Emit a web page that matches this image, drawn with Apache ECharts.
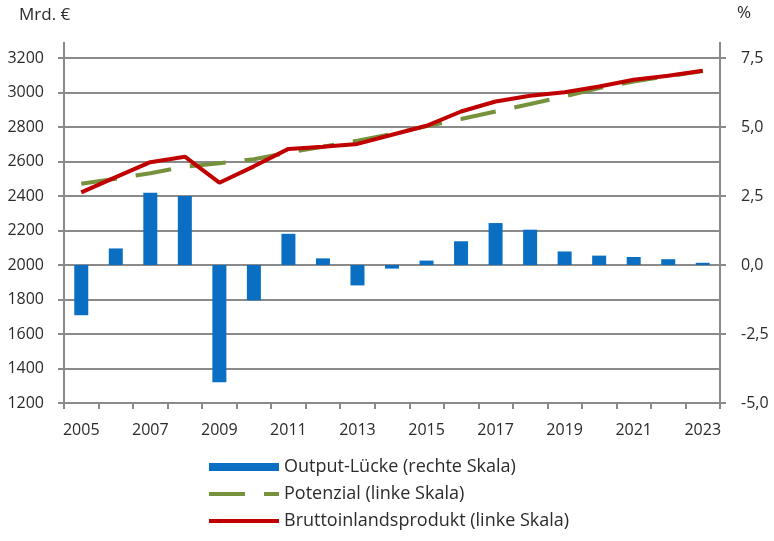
<!DOCTYPE html>
<html>
<head>
<meta charset="utf-8">
<script src="https://cdn.jsdelivr.net/npm/echarts@6/dist/echarts.min.js"></script>
<style>
  html, body { margin: 0; padding: 0; background: #fff; }
  #cnv { width: 774px; height: 541px; }
</style>
</head>
<body>
<div id="cnv"></div>
<script>
var years = ["2005", "2006", "2007", "2008", "2009", "2010", "2011", "2012", "2013", "2014",
  "2015", "2016", "2017", "2018", "2019", "2020", "2021", "2022", "2023"];
// Output-Lücke in % (rechte Skala)
var luecke = [-1.82, 0.60, 2.62, 2.50, -4.25, -1.28, 1.13, 0.24, -0.74, -0.13,
  0.16, 0.86, 1.52, 1.28, 0.49, 0.34, 0.29, 0.21, 0.08];
// Potenzial in Mrd. € (linke Skala)
var potenzial = [2471, 2500, 2532, 2570, 2590, 2613, 2652, 2686, 2721, 2760,
  2805, 2846, 2890, 2933, 2977, 3026, 3064, 3095, 3124];
// Bruttoinlandsprodukt in Mrd. € (linke Skala)
var bip = [2421, 2509, 2596, 2628, 2477, 2572, 2673, 2686, 2702, 2755,
  2807, 2890, 2948, 2981, 3002, 3035, 3074, 3097, 3126];

var font = "Open Sans";
var txt = "#2b2b2b";
var grau = "#8a8a8a";
var gruen = "#76923c";
var rot = "#c00000";
var keinSymbol = { color: "rgba(0,0,0,0)", borderWidth: 0, opacity: 0 };

var main = document.getElementById("cnv");
var myechart = echarts.init(main);
var option = {
  animation: false,
  textStyle: { fontFamily: font },
  grid: { left: 64, right: 54, top: 58, bottom: 138 },
  graphic: [
    { type: "text", left: 19, top: 7, style: { text: "Mrd. €", font: "17px " + font, fill: txt } },
    { type: "text", left: 737, top: 5, style: { text: "%", font: "17px " + font, fill: txt } },
    // Achslinien ragen oben etwas über das Raster hinaus
    { type: "line", shape: { x1: 64, y1: 42, x2: 64, y2: 58 }, style: { stroke: grau, lineWidth: 2 } },
    { type: "line", shape: { x1: 720, y1: 42, x2: 720, y2: 58 }, style: { stroke: grau, lineWidth: 2 } }
  ],
  legend: {
    orient: "vertical",
    left: 207,
    top: 458,
    padding: 0,
    itemWidth: 70,
    itemHeight: 8,
    itemGap: 9,
    textStyle: { fontFamily: font, fontSize: 18, lineHeight: 18, color: txt },
    data: [
      { name: "Output-Lücke (rechte Skala)", icon: "rect" },
      { name: "Potenzial (linke Skala)", itemStyle: keinSymbol, lineStyle: { width: 4, type: [36, 19], color: gruen } },
      { name: "Bruttoinlandsprodukt (linke Skala)", itemStyle: keinSymbol, lineStyle: { width: 4, color: rot } }
    ]
  },
  xAxis: {
    type: "category",
    data: years,
    boundaryGap: true,
    axisLine: { onZero: false, lineStyle: { color: grau, width: 2 } },
    axisTick: { show: true, alignWithLabel: false, interval: 0, length: 6, lineStyle: { color: grau, width: 2 } },
    axisLabel: { interval: 1, margin: 19, fontSize: 16, color: txt, fontFamily: font }
  },
  yAxis: [
    {
      type: "value",
      min: 1200,
      max: 3200,
      interval: 200,
      position: "left",
      axisLine: { show: true, lineStyle: { color: grau, width: 2 } },
      axisTick: { show: true, length: 6, lineStyle: { color: grau, width: 2 } },
      axisLabel: { margin: 20, fontSize: 16, color: txt, fontFamily: font, formatter: function (v) { return String(v); } },
      splitLine: { show: true, lineStyle: { color: grau, width: 2 } }
    },
    {
      type: "value",
      min: -5,
      max: 7.5,
      interval: 2.5,
      position: "right",
      axisLine: { show: true, lineStyle: { color: grau, width: 2 } },
      axisTick: { show: true, length: 6, lineStyle: { color: grau, width: 2 } },
      axisLabel: {
        margin: 21, fontSize: 16, color: txt, fontFamily: font,
        formatter: function (v) { return v.toFixed(1).replace(".", ","); }
      },
      splitLine: { show: false }
    }
  ],
  series: [
    {
      name: "Output-Lücke (rechte Skala)",
      type: "bar",
      yAxisIndex: 1,
      data: luecke,
      barWidth: 14,
      itemStyle: { color: "#0a6fc2" }
    },
    {
      name: "Potenzial (linke Skala)",
      type: "line",
      yAxisIndex: 0,
      data: potenzial,
      symbol: "none",
      itemStyle: { color: gruen },
      lineStyle: { color: gruen, width: 4, type: [36, 19] }
    },
    {
      name: "Bruttoinlandsprodukt (linke Skala)",
      type: "line",
      yAxisIndex: 0,
      data: bip,
      symbol: "none",
      itemStyle: { color: rot },
      lineStyle: { color: rot, width: 4 }
    }
  ]
};
myechart.setOption(option);
</script>
</body>
</html>
